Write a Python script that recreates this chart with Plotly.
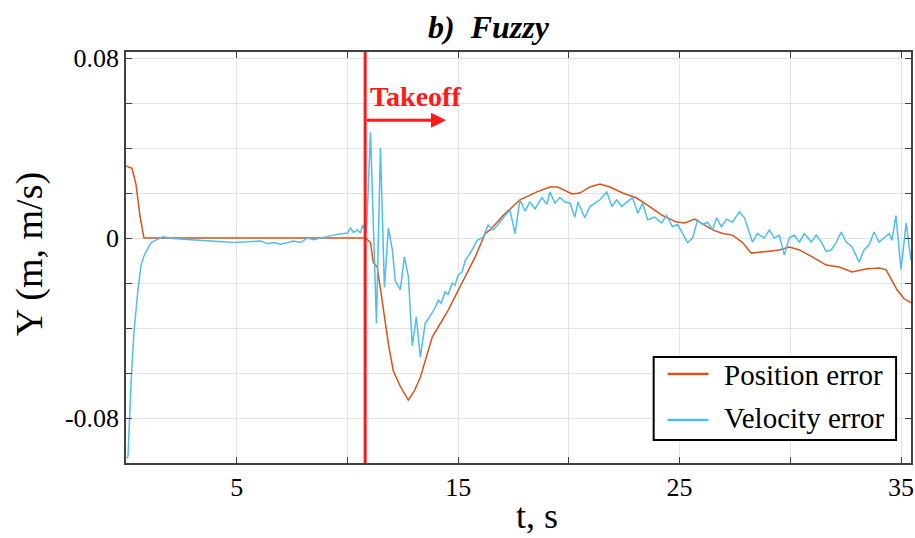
import plotly.graph_objects as go

# ---- data ----
pos_t = [0.0, 0.27, 0.45, 0.63, 0.81, 1.13, 5.0, 10.81, 11.04, 11.17, 11.35, 11.58, 11.85, 12.07, 12.39,
         12.75, 13.02, 13.29, 13.83, 14.55, 15.18, 15.77, 16.22, 16.44, 17.03, 17.79, 18.56, 19.14,
         19.50, 20.14, 20.50, 20.95, 21.40, 21.85, 22.43, 23.06, 23.65, 24.23, 24.86, 25.23, 25.68,
         25.90, 26.49, 26.94, 27.39, 27.84, 28.24, 28.92, 29.50, 29.95, 30.41, 30.99, 31.62, 32.21,
         32.79, 33.42, 34.01, 34.32, 34.59, 34.82, 35.14, 35.50]
pos_err = [0.032, 0.031, 0.024, 0.010, 0.0, 0.0, 0.0, 0.0, -0.002, -0.011, -0.013, -0.029, -0.047, -0.059,
           -0.066, -0.072, -0.068, -0.062, -0.044, -0.032, -0.020, -0.0084, 0.002, 0.0036, 0.010, 0.017,
           0.0205, 0.0227, 0.0227, 0.0196, 0.020, 0.0227, 0.024, 0.0227, 0.020, 0.0178, 0.014, 0.010,
           0.0071, 0.0067, 0.0084, 0.007, 0.0036, 0.002, 0.0013, -0.002, -0.0067, -0.006, -0.0053,
           -0.004, -0.0053, -0.0084, -0.012, -0.0129, -0.0151, -0.0138, -0.0133, -0.014, -0.0187,
           -0.023, -0.027, -0.029]

vel_t = [0.05, 0.09, 0.23, 0.36, 0.54, 0.68, 0.81, 1.13, 1.67, 2.12, 2.61, 3.38, 4.05, 4.86, 5.50, 6.08,
         6.40, 6.67, 6.98, 7.57, 7.88, 8.20, 8.47, 8.78, 9.10, 9.37, 9.68, 10.0, 10.14, 10.27, 10.45,
         10.59, 10.68, 10.77, 10.86, 11.04, 11.31, 11.49, 11.67, 11.85, 12.03, 12.16, 12.39, 12.57,
         12.75, 12.93, 13.11, 13.29, 13.51, 13.65, 13.83, 13.96, 14.10, 14.23, 14.41, 14.55, 14.73,
         14.86, 15.0, 15.18, 15.32, 15.63, 15.86, 16.13, 16.35, 16.58, 16.80, 17.03, 17.34, 17.57,
         17.79, 18.02, 18.24, 18.47, 18.78, 19.01, 19.14, 19.37, 19.59, 19.82, 20.05, 20.27, 20.41,
         20.72, 20.95, 21.17, 21.40, 21.71, 21.94, 22.16, 22.39, 22.61, 22.88, 23.11, 23.33, 23.56,
         23.87, 24.19, 24.41, 24.68, 24.91, 25.14, 25.36, 25.59, 25.81, 26.04, 26.26, 26.49, 26.67,
         26.89, 27.12, 27.39, 27.70, 27.93, 28.15, 28.29, 28.51, 28.83, 29.05, 29.28, 29.50, 29.73,
         29.95, 30.18, 30.41, 30.63, 30.95, 31.17, 31.40, 31.62, 31.85, 32.07, 32.30, 32.52, 32.79,
         33.11, 33.33, 33.56, 33.78, 34.01, 34.23, 34.46, 34.59, 34.77, 35.0, 35.23, 35.45, 35.59]
vel_err = [-0.098, -0.097, -0.064, -0.042, -0.023, -0.012, -0.008, -0.002, 0.0006, -0.0002, -0.0005,
           -0.001, -0.0015, -0.002, -0.0017, -0.0013, -0.0025, -0.002, -0.0028, -0.0013, -0.002, 0.0,
           -0.0008, 0.0, 0.0008, 0.0013, 0.0018, 0.0022, 0.0044, 0.0025, 0.0036, 0.0022, 0.0058, 0.004,
           0.002, 0.047, -0.038, 0.040, -0.022, 0.0044, -0.0053, -0.019, -0.023, -0.0084, -0.017,
           -0.048, -0.035, -0.053, -0.038, -0.036, -0.033, -0.031, -0.0276, -0.029, -0.024, -0.025,
           -0.020, -0.021, -0.0164, -0.015, -0.010, -0.0053, -0.001, 0.0004, 0.0058, 0.0036, 0.006,
           0.009, 0.0124, 0.002, 0.017, 0.012, 0.016, 0.013, 0.018, 0.015, 0.0205, 0.0155, 0.018, 0.016,
           0.0155, 0.0093, 0.016, 0.009, 0.014, 0.0155, 0.017, 0.0205, 0.014, 0.017, 0.014, 0.016, 0.018,
           0.011, 0.0155, 0.008, 0.0093, 0.0067, 0.010, 0.005, 0.006, 0.002, -0.002, 0.0, 0.008, 0.006,
           0.007, 0.0036, 0.009, 0.005, 0.0084, 0.007, 0.0116, 0.009, 0.002, -0.0018, 0.002, 0.0,
           0.0036, 0.0, 0.0013, -0.0076, 0.0, 0.0013, -0.0018, 0.002, -0.0018, 0.0013, -0.0018, -0.006,
           -0.0053, -0.002, 0.0027, -0.0018, -0.004, -0.0107, -0.0053, -0.003, 0.0027, -0.0018, 0.0,
           0.002, -0.001, 0.010, -0.014, 0.0067, -0.01, -0.004]

series_names = ["Position error", "Velocity error"]
series_colors = ["#D95319", "#4DBEEE"]

takeoff_t = 10.8
x_grid = [0, 5, 10, 15, 20, 25, 30, 35]
x_labels = ["", "5", "", "15", "", "25", "", "35"]
y_grid = [-0.1, -0.08, -0.06, -0.04, -0.02, 0, 0.02, 0.04, 0.06, 0.08]
y_labels = ["", "-0.08", "", "", "", "0", "", "", "", "0.08"]

SERIF = "Liberation Serif, Times New Roman, serif"
RED = "#FF1A1A"

fig = go.Figure()
fig.add_trace(go.Scatter(x=pos_t, y=pos_err, mode="lines", name=series_names[0],
                         line=dict(color=series_colors[0], width=1.5), showlegend=False))
fig.add_trace(go.Scatter(x=vel_t, y=vel_err, mode="lines", name=series_names[1],
                         line=dict(color=series_colors[1], width=1.5), showlegend=False))

# takeoff marker
fig.add_shape(type="line", xref="x", yref="paper", x0=takeoff_t, x1=takeoff_t, y0=0, y1=1,
              line=dict(color=RED, width=3))
fig.add_annotation(x=14.45, y=0.0524, ax=takeoff_t, ay=0.0524, xref="x", yref="y", axref="x", ayref="y",
                   showarrow=True, arrowhead=2, arrowsize=1, arrowwidth=3, arrowcolor=RED, text="")
fig.add_annotation(x=10.95, y=0.0627, xref="x", yref="y", text="<b>Takeoff</b>", showarrow=False,
                   xanchor="left", yanchor="middle", font=dict(family=SERIF, size=28, color=RED))

# titles
fig.add_annotation(x=0.4625, y=1.062, xref="paper", yref="paper", text="<b><i>b)  Fuzzy</i></b>",
                   showarrow=False, xanchor="center", yanchor="middle",
                   font=dict(family=SERIF, size=32, color="black"))
fig.add_annotation(x=-0.1233, y=0.5085, xref="paper", yref="paper", text="Y (m, m/s)", textangle=-90,
                   showarrow=False, xanchor="center", yanchor="middle",
                   font=dict(family=SERIF, size=38, color="black"))
fig.add_annotation(x=0.5241, y=-0.129, xref="paper", yref="paper", text="t, s",
                   showarrow=False, xanchor="center", yanchor="middle",
                   font=dict(family=SERIF, size=36, color="black"))

# legend box (drawn to match reference layout)
fig.add_shape(type="rect", xref="paper", yref="paper", x0=0.6722, x1=0.981, y0=0.056, y1=0.2579,
              line=dict(color="black", width=2), fillcolor="white", layer="above")
leg_y = [0.2165, 0.1046]
txt_y = [0.2141, 0.1095]
for i in range(2):
    fig.add_shape(type="line", xref="paper", yref="paper", x0=0.690, x1=0.742, y0=leg_y[i], y1=leg_y[i],
                  line=dict(color=series_colors[i], width=2.5), layer="above")
    fig.add_annotation(x=0.7586, y=txt_y[i], xref="paper", yref="paper", text=series_names[i],
                       showarrow=False, xanchor="left", yanchor="middle",
                       font=dict(family=SERIF, size=29, color="black"))

axis_common = dict(showgrid=True, gridcolor="#E3E3E3", gridwidth=1, zeroline=False,
                   showline=True, linecolor="#404040", linewidth=1.5, mirror="ticks",
                   ticks="inside", ticklen=6, tickcolor="#404040",
                   tickfont=dict(family=SERIF, size=26, color="black"))
fig.update_xaxes(range=[0, 35.45], tickmode="array", tickvals=x_grid, ticktext=x_labels, **axis_common)
fig.update_yaxes(range=[-0.1, 0.0827], tickmode="array", tickvals=y_grid, ticktext=y_labels, **axis_common)

fig.update_layout(
    width=915, height=538, margin=dict(l=126, r=2, t=52, b=75),
    plot_bgcolor="white", paper_bgcolor="white",
    showlegend=False,
)
fig.write_html("out.html")
